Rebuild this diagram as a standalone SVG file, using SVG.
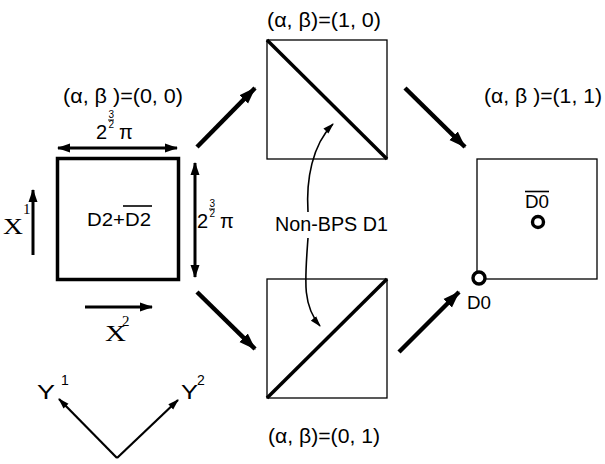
<svg xmlns="http://www.w3.org/2000/svg" width="605" height="464" viewBox="0 0 605 464">
<defs>
<marker id="big" markerUnits="userSpaceOnUse" markerWidth="18" markerHeight="14" refX="16" refY="7" orient="auto"><path d="M0,1 L17,7 L0,13 Z" fill="#000"/></marker>
<marker id="med" markerUnits="userSpaceOnUse" markerWidth="14" markerHeight="10" refX="12" refY="5" orient="auto-start-reverse"><path d="M0,0.5 L13,5 L0,9.5 Z" fill="#000"/></marker>
<marker id="sm" markerUnits="userSpaceOnUse" markerWidth="12" markerHeight="8" refX="10" refY="4" orient="auto-start-reverse"><path d="M0,0.5 L11,4 L0,7.5 Z" fill="#000"/></marker>
</defs>
<style>
.s{font-family:"Liberation Sans",Arial,sans-serif;fill:#000}
.r{font-family:"Liberation Serif","Times New Roman",serif;fill:#000}
.thick{stroke:#000;stroke-width:4.5;fill:none}
.dim{stroke:#000;stroke-width:3;fill:none}
.thin{stroke:#000;stroke-width:2.2;fill:none}
</style>
<rect width="605" height="464" fill="#fff"/>

<g id="node-00">
<rect x="57.5" y="158.5" width="121" height="121" fill="none" stroke="#000" stroke-width="3.5"/>
<text class="s" x="87" y="226" font-size="19" textLength="64" lengthAdjust="spacingAndGlyphs">D2+D2</text>
<line x1="123" y1="206" x2="152" y2="206" stroke="#000" stroke-width="1.6"/>
<text class="s" x="63" y="103" font-size="20" textLength="120" lengthAdjust="spacingAndGlyphs">(α, β )=(0, 0)</text>
</g>

<g id="node-10">
<rect x="267" y="40" width="120" height="119" fill="none" stroke="#000" stroke-width="1.3"/>
<line x1="267" y1="40" x2="387" y2="159" stroke="#000" stroke-width="3.5"/>
<text class="s" x="267" y="27" font-size="20" textLength="114" lengthAdjust="spacingAndGlyphs">(α, β)=(1, 0)</text>
</g>

<g id="node-01">
<rect x="267" y="279" width="120" height="119" fill="none" stroke="#000" stroke-width="1.3"/>
<line x1="267" y1="398" x2="387" y2="279" stroke="#000" stroke-width="3.5"/>
<text class="s" x="268" y="443" font-size="20" textLength="112" lengthAdjust="spacingAndGlyphs">(α, β)=(0, 1)</text>
</g>

<g id="node-11">
<rect x="477" y="159" width="120" height="120" fill="none" stroke="#000" stroke-width="1.3"/>
<text class="s" x="484" y="103" font-size="20" textLength="118" lengthAdjust="spacingAndGlyphs">(α, β )=(1, 1)</text>
<text class="s" x="525" y="208" font-size="18" textLength="24" lengthAdjust="spacingAndGlyphs">D0</text>
<line x1="525" y1="191.5" x2="549" y2="191.5" stroke="#000" stroke-width="1.6"/>
<circle cx="538" cy="222" r="5.5" fill="#fff" stroke="#000" stroke-width="3.4"/>
<circle cx="479" cy="278" r="6" fill="#fff" stroke="#000" stroke-width="3.4"/>
<text class="s" x="467" y="309" font-size="19" textLength="24" lengthAdjust="spacingAndGlyphs">D0</text>
</g>

<g id="label-d1">
<text class="s" x="275" y="231" font-size="20" textLength="113" lengthAdjust="spacingAndGlyphs">Non-BPS D1</text>
</g>

<g id="dims">
<text class="s" x="96" y="139" font-size="20">2</text>
<text class="s" x="108.5" y="118" font-size="10">3</text>
<line x1="108" y1="120" x2="114" y2="120" stroke="#000" stroke-width="0.9"/>
<text class="s" x="108.5" y="128" font-size="10">2</text>
<text class="s" x="119" y="139" font-size="20">π</text>
<text class="s" x="197" y="228" font-size="20">2</text>
<text class="s" x="209.5" y="207" font-size="10">3</text>
<line x1="209" y1="209" x2="215" y2="209" stroke="#000" stroke-width="0.9"/>
<text class="s" x="209.5" y="217" font-size="10">2</text>
<text class="s" x="220" y="228" font-size="20">π</text>
</g>

<g id="axes">
<text class="r" x="3" y="234" font-size="24" textLength="20" lengthAdjust="spacingAndGlyphs">X</text>
<text class="r" x="23" y="214" font-size="15">1</text>
<text class="r" x="105" y="341" font-size="24" textLength="21" lengthAdjust="spacingAndGlyphs">X</text>
<text class="r" x="122" y="326" font-size="15">2</text>
<text class="s" x="37" y="399" font-size="20" textLength="18" lengthAdjust="spacingAndGlyphs">Y</text>
<text class="s" x="61" y="385" font-size="14">1</text>
<text class="s" x="181" y="399" font-size="20" textLength="17" lengthAdjust="spacingAndGlyphs">Y</text>
<text class="s" x="197" y="385" font-size="14">2</text>
</g>

<g id="connectors">
<line class="thick" x1="197" y1="147" x2="255" y2="88" marker-end="url(#big)"/>
<line class="thick" x1="197" y1="292" x2="255" y2="349" marker-end="url(#big)"/>
<line class="thick" x1="405" y1="88" x2="465" y2="147" marker-end="url(#big)"/>
<line class="thick" x1="399" y1="352" x2="459" y2="292" marker-end="url(#big)"/>
<line class="dim" x1="58" y1="148" x2="177" y2="148" marker-start="url(#med)" marker-end="url(#med)"/>
<line class="dim" x1="195" y1="163" x2="195" y2="277" marker-start="url(#med)" marker-end="url(#med)"/>
<line class="dim" x1="33" y1="255" x2="33" y2="190" marker-end="url(#med)"/>
<line class="dim" x1="85" y1="307" x2="152" y2="307" marker-end="url(#med)"/>
<path class="thin" d="M117,458 L59,399" marker-end="url(#sm)"/>
<path class="thin" d="M117,458 L178,400" marker-end="url(#sm)"/>
<path d="M308,212 C306,180 312,145 333,124" fill="none" stroke="#000" stroke-width="1.6" marker-end="url(#sm)"/>
<path d="M308,238 C305,280 302,305 320,326" fill="none" stroke="#000" stroke-width="1.6" marker-end="url(#sm)"/>
</g>
</svg>
